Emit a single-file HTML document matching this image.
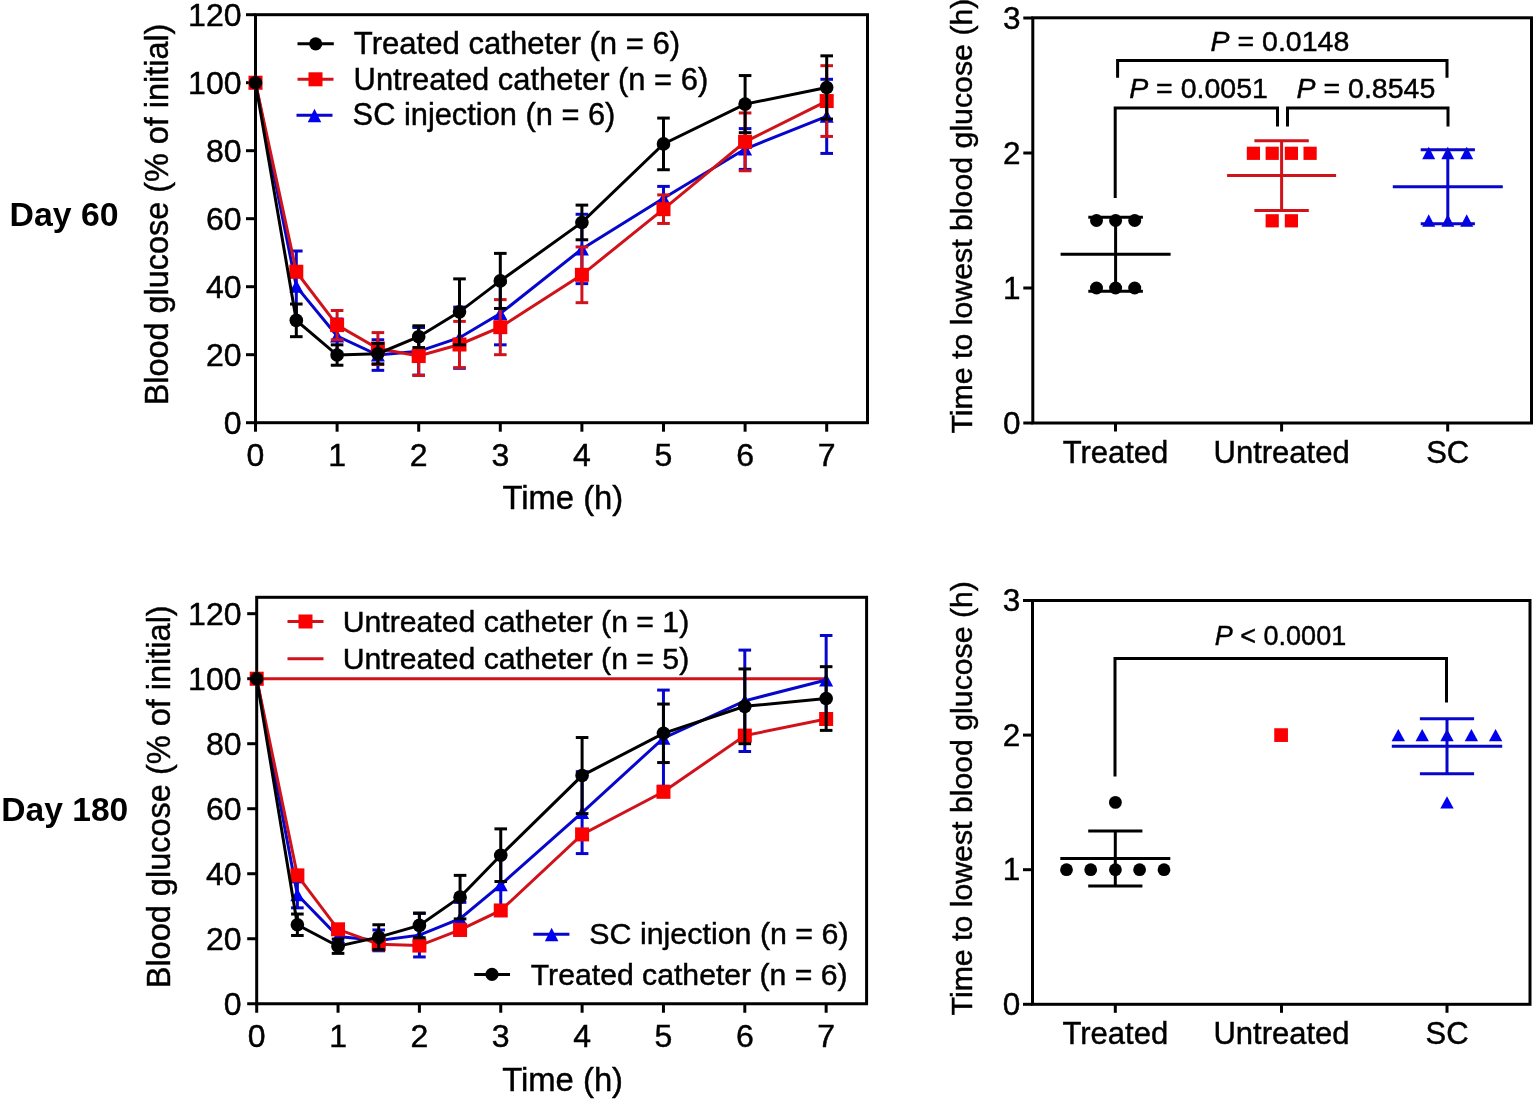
<!DOCTYPE html>
<html><head><meta charset="utf-8"><title>Blood glucose figure</title>
<style>html,body{margin:0;padding:0;background:#fff;}body{width:1536px;height:1100px;overflow:hidden;}svg{display:block;}text{fill:#000;stroke:#000;stroke-width:0.45px;}</style>
</head><body>
<svg width="1536" height="1100" viewBox="0 0 1536 1100" font-family="&quot;Liberation Sans&quot;, Arial, sans-serif">
<rect width="1536" height="1100" fill="#fff"/>
<rect x="255.50" y="14.70" width="612.00" height="408.00" fill="none" stroke="#000" stroke-width="3"/>
<line x1="246.00" y1="422.70" x2="255.50" y2="422.70" stroke="#000" stroke-width="3" stroke-linecap="butt"/>
<text x="241.50" y="433.66" font-size="32" text-anchor="end" font-weight="normal">0</text>
<line x1="246.00" y1="354.70" x2="255.50" y2="354.70" stroke="#000" stroke-width="3" stroke-linecap="butt"/>
<text x="241.50" y="365.66" font-size="32" text-anchor="end" font-weight="normal">20</text>
<line x1="246.00" y1="286.70" x2="255.50" y2="286.70" stroke="#000" stroke-width="3" stroke-linecap="butt"/>
<text x="241.50" y="297.66" font-size="32" text-anchor="end" font-weight="normal">40</text>
<line x1="246.00" y1="218.70" x2="255.50" y2="218.70" stroke="#000" stroke-width="3" stroke-linecap="butt"/>
<text x="241.50" y="229.66" font-size="32" text-anchor="end" font-weight="normal">60</text>
<line x1="246.00" y1="150.70" x2="255.50" y2="150.70" stroke="#000" stroke-width="3" stroke-linecap="butt"/>
<text x="241.50" y="161.66" font-size="32" text-anchor="end" font-weight="normal">80</text>
<line x1="246.00" y1="82.70" x2="255.50" y2="82.70" stroke="#000" stroke-width="3" stroke-linecap="butt"/>
<text x="241.50" y="93.66" font-size="32" text-anchor="end" font-weight="normal">100</text>
<line x1="246.00" y1="14.70" x2="255.50" y2="14.70" stroke="#000" stroke-width="3" stroke-linecap="butt"/>
<text x="241.50" y="25.66" font-size="32" text-anchor="end" font-weight="normal">120</text>
<line x1="255.50" y1="422.70" x2="255.50" y2="431.70" stroke="#000" stroke-width="3" stroke-linecap="butt"/>
<text x="255.50" y="466.20" font-size="32" text-anchor="middle" font-weight="normal">0</text>
<line x1="337.10" y1="422.70" x2="337.10" y2="431.70" stroke="#000" stroke-width="3" stroke-linecap="butt"/>
<text x="337.10" y="466.20" font-size="32" text-anchor="middle" font-weight="normal">1</text>
<line x1="418.70" y1="422.70" x2="418.70" y2="431.70" stroke="#000" stroke-width="3" stroke-linecap="butt"/>
<text x="418.70" y="466.20" font-size="32" text-anchor="middle" font-weight="normal">2</text>
<line x1="500.30" y1="422.70" x2="500.30" y2="431.70" stroke="#000" stroke-width="3" stroke-linecap="butt"/>
<text x="500.30" y="466.20" font-size="32" text-anchor="middle" font-weight="normal">3</text>
<line x1="581.90" y1="422.70" x2="581.90" y2="431.70" stroke="#000" stroke-width="3" stroke-linecap="butt"/>
<text x="581.90" y="466.20" font-size="32" text-anchor="middle" font-weight="normal">4</text>
<line x1="663.50" y1="422.70" x2="663.50" y2="431.70" stroke="#000" stroke-width="3" stroke-linecap="butt"/>
<text x="663.50" y="466.20" font-size="32" text-anchor="middle" font-weight="normal">5</text>
<line x1="745.10" y1="422.70" x2="745.10" y2="431.70" stroke="#000" stroke-width="3" stroke-linecap="butt"/>
<text x="745.10" y="466.20" font-size="32" text-anchor="middle" font-weight="normal">6</text>
<line x1="826.70" y1="422.70" x2="826.70" y2="431.70" stroke="#000" stroke-width="3" stroke-linecap="butt"/>
<text x="826.70" y="466.20" font-size="32" text-anchor="middle" font-weight="normal">7</text>
<line x1="296.30" y1="251.00" x2="296.30" y2="321.72" stroke="#0606cc" stroke-width="3" stroke-linecap="butt"/>
<line x1="290.00" y1="251.00" x2="302.60" y2="251.00" stroke="#0606cc" stroke-width="3" stroke-linecap="butt"/>
<line x1="290.00" y1="321.72" x2="302.60" y2="321.72" stroke="#0606cc" stroke-width="3" stroke-linecap="butt"/>
<line x1="337.10" y1="319.00" x2="337.10" y2="353.00" stroke="#0606cc" stroke-width="3" stroke-linecap="butt"/>
<line x1="330.80" y1="319.00" x2="343.40" y2="319.00" stroke="#0606cc" stroke-width="3" stroke-linecap="butt"/>
<line x1="330.80" y1="353.00" x2="343.40" y2="353.00" stroke="#0606cc" stroke-width="3" stroke-linecap="butt"/>
<line x1="377.90" y1="339.74" x2="377.90" y2="370.34" stroke="#0606cc" stroke-width="3" stroke-linecap="butt"/>
<line x1="371.60" y1="339.74" x2="384.20" y2="339.74" stroke="#0606cc" stroke-width="3" stroke-linecap="butt"/>
<line x1="371.60" y1="370.34" x2="384.20" y2="370.34" stroke="#0606cc" stroke-width="3" stroke-linecap="butt"/>
<line x1="418.70" y1="327.50" x2="418.70" y2="375.10" stroke="#0606cc" stroke-width="3" stroke-linecap="butt"/>
<line x1="412.40" y1="327.50" x2="425.00" y2="327.50" stroke="#0606cc" stroke-width="3" stroke-linecap="butt"/>
<line x1="412.40" y1="375.10" x2="425.00" y2="375.10" stroke="#0606cc" stroke-width="3" stroke-linecap="butt"/>
<line x1="459.50" y1="307.10" x2="459.50" y2="368.30" stroke="#0606cc" stroke-width="3" stroke-linecap="butt"/>
<line x1="453.20" y1="307.10" x2="465.80" y2="307.10" stroke="#0606cc" stroke-width="3" stroke-linecap="butt"/>
<line x1="453.20" y1="368.30" x2="465.80" y2="368.30" stroke="#0606cc" stroke-width="3" stroke-linecap="butt"/>
<line x1="500.30" y1="282.28" x2="500.30" y2="344.84" stroke="#0606cc" stroke-width="3" stroke-linecap="butt"/>
<line x1="494.00" y1="282.28" x2="506.60" y2="282.28" stroke="#0606cc" stroke-width="3" stroke-linecap="butt"/>
<line x1="494.00" y1="344.84" x2="506.60" y2="344.84" stroke="#0606cc" stroke-width="3" stroke-linecap="butt"/>
<line x1="581.90" y1="214.28" x2="581.90" y2="283.64" stroke="#0606cc" stroke-width="3" stroke-linecap="butt"/>
<line x1="575.60" y1="214.28" x2="588.20" y2="214.28" stroke="#0606cc" stroke-width="3" stroke-linecap="butt"/>
<line x1="575.60" y1="283.64" x2="588.20" y2="283.64" stroke="#0606cc" stroke-width="3" stroke-linecap="butt"/>
<line x1="663.50" y1="186.40" x2="663.50" y2="210.20" stroke="#0606cc" stroke-width="3" stroke-linecap="butt"/>
<line x1="657.20" y1="186.40" x2="669.80" y2="186.40" stroke="#0606cc" stroke-width="3" stroke-linecap="butt"/>
<line x1="657.20" y1="210.20" x2="669.80" y2="210.20" stroke="#0606cc" stroke-width="3" stroke-linecap="butt"/>
<line x1="745.10" y1="128.60" x2="745.10" y2="169.40" stroke="#0606cc" stroke-width="3" stroke-linecap="butt"/>
<line x1="738.80" y1="128.60" x2="751.40" y2="128.60" stroke="#0606cc" stroke-width="3" stroke-linecap="butt"/>
<line x1="738.80" y1="169.40" x2="751.40" y2="169.40" stroke="#0606cc" stroke-width="3" stroke-linecap="butt"/>
<line x1="826.70" y1="79.30" x2="826.70" y2="153.42" stroke="#0606cc" stroke-width="3" stroke-linecap="butt"/>
<line x1="820.40" y1="79.30" x2="833.00" y2="79.30" stroke="#0606cc" stroke-width="3" stroke-linecap="butt"/>
<line x1="820.40" y1="153.42" x2="833.00" y2="153.42" stroke="#0606cc" stroke-width="3" stroke-linecap="butt"/>
<polyline points="255.50,82.70 296.30,286.36 337.10,336.00 377.90,355.04 418.70,351.30 459.50,337.70 500.30,313.56 581.90,248.96 663.50,198.30 745.10,149.00 826.70,116.36" fill="none" stroke="#0606cc" stroke-width="3" stroke-linejoin="miter"/>
<polygon points="255.50,76.20 262.50,89.20 248.50,89.20" fill="#0000f0"/>
<polygon points="296.30,279.86 303.30,292.86 289.30,292.86" fill="#0000f0"/>
<polygon points="337.10,329.50 344.10,342.50 330.10,342.50" fill="#0000f0"/>
<polygon points="377.90,348.54 384.90,361.54 370.90,361.54" fill="#0000f0"/>
<polygon points="418.70,344.80 425.70,357.80 411.70,357.80" fill="#0000f0"/>
<polygon points="459.50,331.20 466.50,344.20 452.50,344.20" fill="#0000f0"/>
<polygon points="500.30,307.06 507.30,320.06 493.30,320.06" fill="#0000f0"/>
<polygon points="581.90,242.46 588.90,255.46 574.90,255.46" fill="#0000f0"/>
<polygon points="663.50,191.80 670.50,204.80 656.50,204.80" fill="#0000f0"/>
<polygon points="745.10,142.50 752.10,155.50 738.10,155.50" fill="#0000f0"/>
<polygon points="826.70,109.86 833.70,122.86 819.70,122.86" fill="#0000f0"/>
<line x1="296.30" y1="266.64" x2="296.30" y2="276.84" stroke="#d0121a" stroke-width="3" stroke-linecap="butt"/>
<line x1="290.00" y1="266.64" x2="302.60" y2="266.64" stroke="#d0121a" stroke-width="3" stroke-linecap="butt"/>
<line x1="290.00" y1="276.84" x2="302.60" y2="276.84" stroke="#d0121a" stroke-width="3" stroke-linecap="butt"/>
<line x1="337.10" y1="310.50" x2="337.10" y2="339.74" stroke="#d0121a" stroke-width="3" stroke-linecap="butt"/>
<line x1="330.80" y1="310.50" x2="343.40" y2="310.50" stroke="#d0121a" stroke-width="3" stroke-linecap="butt"/>
<line x1="330.80" y1="339.74" x2="343.40" y2="339.74" stroke="#d0121a" stroke-width="3" stroke-linecap="butt"/>
<line x1="377.90" y1="332.60" x2="377.90" y2="364.56" stroke="#d0121a" stroke-width="3" stroke-linecap="butt"/>
<line x1="371.60" y1="332.60" x2="384.20" y2="332.60" stroke="#d0121a" stroke-width="3" stroke-linecap="butt"/>
<line x1="371.60" y1="364.56" x2="384.20" y2="364.56" stroke="#d0121a" stroke-width="3" stroke-linecap="butt"/>
<line x1="418.70" y1="336.68" x2="418.70" y2="375.44" stroke="#d0121a" stroke-width="3" stroke-linecap="butt"/>
<line x1="412.40" y1="336.68" x2="425.00" y2="336.68" stroke="#d0121a" stroke-width="3" stroke-linecap="butt"/>
<line x1="412.40" y1="375.44" x2="425.00" y2="375.44" stroke="#d0121a" stroke-width="3" stroke-linecap="butt"/>
<line x1="459.50" y1="321.38" x2="459.50" y2="367.62" stroke="#d0121a" stroke-width="3" stroke-linecap="butt"/>
<line x1="453.20" y1="321.38" x2="465.80" y2="321.38" stroke="#d0121a" stroke-width="3" stroke-linecap="butt"/>
<line x1="453.20" y1="367.62" x2="465.80" y2="367.62" stroke="#d0121a" stroke-width="3" stroke-linecap="butt"/>
<line x1="500.30" y1="299.62" x2="500.30" y2="354.70" stroke="#d0121a" stroke-width="3" stroke-linecap="butt"/>
<line x1="494.00" y1="299.62" x2="506.60" y2="299.62" stroke="#d0121a" stroke-width="3" stroke-linecap="butt"/>
<line x1="494.00" y1="354.70" x2="506.60" y2="354.70" stroke="#d0121a" stroke-width="3" stroke-linecap="butt"/>
<line x1="581.90" y1="246.92" x2="581.90" y2="302.68" stroke="#d0121a" stroke-width="3" stroke-linecap="butt"/>
<line x1="575.60" y1="246.92" x2="588.20" y2="246.92" stroke="#d0121a" stroke-width="3" stroke-linecap="butt"/>
<line x1="575.60" y1="302.68" x2="588.20" y2="302.68" stroke="#d0121a" stroke-width="3" stroke-linecap="butt"/>
<line x1="663.50" y1="194.90" x2="663.50" y2="223.46" stroke="#d0121a" stroke-width="3" stroke-linecap="butt"/>
<line x1="657.20" y1="194.90" x2="669.80" y2="194.90" stroke="#d0121a" stroke-width="3" stroke-linecap="butt"/>
<line x1="657.20" y1="223.46" x2="669.80" y2="223.46" stroke="#d0121a" stroke-width="3" stroke-linecap="butt"/>
<line x1="745.10" y1="112.96" x2="745.10" y2="170.76" stroke="#d0121a" stroke-width="3" stroke-linecap="butt"/>
<line x1="738.80" y1="112.96" x2="751.40" y2="112.96" stroke="#d0121a" stroke-width="3" stroke-linecap="butt"/>
<line x1="738.80" y1="170.76" x2="751.40" y2="170.76" stroke="#d0121a" stroke-width="3" stroke-linecap="butt"/>
<line x1="826.70" y1="65.70" x2="826.70" y2="136.42" stroke="#d0121a" stroke-width="3" stroke-linecap="butt"/>
<line x1="820.40" y1="65.70" x2="833.00" y2="65.70" stroke="#d0121a" stroke-width="3" stroke-linecap="butt"/>
<line x1="820.40" y1="136.42" x2="833.00" y2="136.42" stroke="#d0121a" stroke-width="3" stroke-linecap="butt"/>
<polyline points="255.50,82.70 296.30,271.74 337.10,325.12 377.90,348.58 418.70,356.06 459.50,344.50 500.30,327.16 581.90,274.80 663.50,209.18 745.10,141.86 826.70,101.06" fill="none" stroke="#d0121a" stroke-width="3" stroke-linejoin="miter"/>
<rect x="248.50" y="75.70" width="14" height="14" fill="#fa0000"/>
<rect x="289.30" y="264.74" width="14" height="14" fill="#fa0000"/>
<rect x="330.10" y="318.12" width="14" height="14" fill="#fa0000"/>
<rect x="370.90" y="341.58" width="14" height="14" fill="#fa0000"/>
<rect x="411.70" y="349.06" width="14" height="14" fill="#fa0000"/>
<rect x="452.50" y="337.50" width="14" height="14" fill="#fa0000"/>
<rect x="493.30" y="320.16" width="14" height="14" fill="#fa0000"/>
<rect x="574.90" y="267.80" width="14" height="14" fill="#fa0000"/>
<rect x="656.50" y="202.18" width="14" height="14" fill="#fa0000"/>
<rect x="738.10" y="134.86" width="14" height="14" fill="#fa0000"/>
<rect x="819.70" y="94.06" width="14" height="14" fill="#fa0000"/>
<line x1="296.30" y1="304.04" x2="296.30" y2="336.68" stroke="#000" stroke-width="3" stroke-linecap="butt"/>
<line x1="290.00" y1="304.04" x2="302.60" y2="304.04" stroke="#000" stroke-width="3" stroke-linecap="butt"/>
<line x1="290.00" y1="336.68" x2="302.60" y2="336.68" stroke="#000" stroke-width="3" stroke-linecap="butt"/>
<line x1="337.10" y1="344.84" x2="337.10" y2="365.24" stroke="#000" stroke-width="3" stroke-linecap="butt"/>
<line x1="330.80" y1="344.84" x2="343.40" y2="344.84" stroke="#000" stroke-width="3" stroke-linecap="butt"/>
<line x1="330.80" y1="365.24" x2="343.40" y2="365.24" stroke="#000" stroke-width="3" stroke-linecap="butt"/>
<line x1="377.90" y1="343.48" x2="377.90" y2="363.88" stroke="#000" stroke-width="3" stroke-linecap="butt"/>
<line x1="371.60" y1="343.48" x2="384.20" y2="343.48" stroke="#000" stroke-width="3" stroke-linecap="butt"/>
<line x1="371.60" y1="363.88" x2="384.20" y2="363.88" stroke="#000" stroke-width="3" stroke-linecap="butt"/>
<line x1="418.70" y1="325.80" x2="418.70" y2="347.56" stroke="#000" stroke-width="3" stroke-linecap="butt"/>
<line x1="412.40" y1="325.80" x2="425.00" y2="325.80" stroke="#000" stroke-width="3" stroke-linecap="butt"/>
<line x1="412.40" y1="347.56" x2="425.00" y2="347.56" stroke="#000" stroke-width="3" stroke-linecap="butt"/>
<line x1="459.50" y1="278.88" x2="459.50" y2="344.84" stroke="#000" stroke-width="3" stroke-linecap="butt"/>
<line x1="453.20" y1="278.88" x2="465.80" y2="278.88" stroke="#000" stroke-width="3" stroke-linecap="butt"/>
<line x1="453.20" y1="344.84" x2="465.80" y2="344.84" stroke="#000" stroke-width="3" stroke-linecap="butt"/>
<line x1="500.30" y1="253.38" x2="500.30" y2="308.46" stroke="#000" stroke-width="3" stroke-linecap="butt"/>
<line x1="494.00" y1="253.38" x2="506.60" y2="253.38" stroke="#000" stroke-width="3" stroke-linecap="butt"/>
<line x1="494.00" y1="308.46" x2="506.60" y2="308.46" stroke="#000" stroke-width="3" stroke-linecap="butt"/>
<line x1="581.90" y1="205.10" x2="581.90" y2="239.78" stroke="#000" stroke-width="3" stroke-linecap="butt"/>
<line x1="575.60" y1="205.10" x2="588.20" y2="205.10" stroke="#000" stroke-width="3" stroke-linecap="butt"/>
<line x1="575.60" y1="239.78" x2="588.20" y2="239.78" stroke="#000" stroke-width="3" stroke-linecap="butt"/>
<line x1="663.50" y1="118.06" x2="663.50" y2="169.74" stroke="#000" stroke-width="3" stroke-linecap="butt"/>
<line x1="657.20" y1="118.06" x2="669.80" y2="118.06" stroke="#000" stroke-width="3" stroke-linecap="butt"/>
<line x1="657.20" y1="169.74" x2="669.80" y2="169.74" stroke="#000" stroke-width="3" stroke-linecap="butt"/>
<line x1="745.10" y1="75.56" x2="745.10" y2="132.68" stroke="#000" stroke-width="3" stroke-linecap="butt"/>
<line x1="738.80" y1="75.56" x2="751.40" y2="75.56" stroke="#000" stroke-width="3" stroke-linecap="butt"/>
<line x1="738.80" y1="132.68" x2="751.40" y2="132.68" stroke="#000" stroke-width="3" stroke-linecap="butt"/>
<line x1="826.70" y1="55.84" x2="826.70" y2="119.08" stroke="#000" stroke-width="3" stroke-linecap="butt"/>
<line x1="820.40" y1="55.84" x2="833.00" y2="55.84" stroke="#000" stroke-width="3" stroke-linecap="butt"/>
<line x1="820.40" y1="119.08" x2="833.00" y2="119.08" stroke="#000" stroke-width="3" stroke-linecap="butt"/>
<polyline points="255.50,82.70 296.30,320.36 337.10,355.04 377.90,353.68 418.70,336.68 459.50,311.86 500.30,280.92 581.90,222.44 663.50,143.90 745.10,104.12 826.70,87.46" fill="none" stroke="#000" stroke-width="3" stroke-linejoin="miter"/>
<circle cx="255.50" cy="82.70" r="6.8" fill="#000"/>
<circle cx="296.30" cy="320.36" r="6.8" fill="#000"/>
<circle cx="337.10" cy="355.04" r="6.8" fill="#000"/>
<circle cx="377.90" cy="353.68" r="6.8" fill="#000"/>
<circle cx="418.70" cy="336.68" r="6.8" fill="#000"/>
<circle cx="459.50" cy="311.86" r="6.8" fill="#000"/>
<circle cx="500.30" cy="280.92" r="6.8" fill="#000"/>
<circle cx="581.90" cy="222.44" r="6.8" fill="#000"/>
<circle cx="663.50" cy="143.90" r="6.8" fill="#000"/>
<circle cx="745.10" cy="104.12" r="6.8" fill="#000"/>
<circle cx="826.70" cy="87.46" r="6.8" fill="#000"/>
<line x1="297.50" y1="43.80" x2="333.80" y2="43.80" stroke="#000" stroke-width="3" stroke-linecap="butt"/>
<circle cx="315.70" cy="43.80" r="6.6" fill="#000"/>
<line x1="297.50" y1="79.30" x2="333.50" y2="79.30" stroke="#d0121a" stroke-width="3" stroke-linecap="butt"/>
<rect x="308.50" y="72.30" width="14" height="14" fill="#fa0000"/>
<line x1="296.50" y1="115.30" x2="332.50" y2="115.30" stroke="#0606cc" stroke-width="3" stroke-linecap="butt"/>
<polygon points="314.50,108.85 321.25,122.35 307.75,122.35" fill="#0000f0"/>
<text x="353.80" y="54.40" font-size="31.1" text-anchor="start" font-weight="normal">Treated catheter (n = 6)</text>
<text x="353.60" y="89.60" font-size="30.9" text-anchor="start" font-weight="normal">Untreated catheter (n = 6)</text>
<text x="352.60" y="124.60" font-size="30.8" text-anchor="start" font-weight="normal">SC injection (n = 6)</text>
<text x="502.40" y="509.40" font-size="32.8" text-anchor="start" font-weight="normal">Time (h)</text>
<text transform="translate(167.90,405.30) rotate(-90)" x="0" y="0" font-size="32.4">Blood glucose (% of initial)</text>
<text x="9.60" y="226.40" font-size="33.8" text-anchor="start" font-weight="bold" style="stroke-width:0">Day 60</text>
<rect x="256.70" y="597.30" width="609.90" height="406.45" fill="none" stroke="#000" stroke-width="3"/>
<line x1="247.20" y1="1003.75" x2="256.70" y2="1003.75" stroke="#000" stroke-width="3" stroke-linecap="butt"/>
<text x="241.50" y="1014.71" font-size="32" text-anchor="end" font-weight="normal">0</text>
<line x1="247.20" y1="938.74" x2="256.70" y2="938.74" stroke="#000" stroke-width="3" stroke-linecap="butt"/>
<text x="241.50" y="949.70" font-size="32" text-anchor="end" font-weight="normal">20</text>
<line x1="247.20" y1="873.73" x2="256.70" y2="873.73" stroke="#000" stroke-width="3" stroke-linecap="butt"/>
<text x="241.50" y="884.69" font-size="32" text-anchor="end" font-weight="normal">40</text>
<line x1="247.20" y1="808.72" x2="256.70" y2="808.72" stroke="#000" stroke-width="3" stroke-linecap="butt"/>
<text x="241.50" y="819.68" font-size="32" text-anchor="end" font-weight="normal">60</text>
<line x1="247.20" y1="743.71" x2="256.70" y2="743.71" stroke="#000" stroke-width="3" stroke-linecap="butt"/>
<text x="241.50" y="754.67" font-size="32" text-anchor="end" font-weight="normal">80</text>
<line x1="247.20" y1="678.70" x2="256.70" y2="678.70" stroke="#000" stroke-width="3" stroke-linecap="butt"/>
<text x="241.50" y="689.66" font-size="32" text-anchor="end" font-weight="normal">100</text>
<line x1="247.20" y1="613.69" x2="256.70" y2="613.69" stroke="#000" stroke-width="3" stroke-linecap="butt"/>
<text x="241.50" y="624.65" font-size="32" text-anchor="end" font-weight="normal">120</text>
<line x1="256.70" y1="1003.75" x2="256.70" y2="1012.75" stroke="#000" stroke-width="3" stroke-linecap="butt"/>
<text x="256.70" y="1047.20" font-size="32" text-anchor="middle" font-weight="normal">0</text>
<line x1="338.05" y1="1003.75" x2="338.05" y2="1012.75" stroke="#000" stroke-width="3" stroke-linecap="butt"/>
<text x="338.05" y="1047.20" font-size="32" text-anchor="middle" font-weight="normal">1</text>
<line x1="419.40" y1="1003.75" x2="419.40" y2="1012.75" stroke="#000" stroke-width="3" stroke-linecap="butt"/>
<text x="419.40" y="1047.20" font-size="32" text-anchor="middle" font-weight="normal">2</text>
<line x1="500.75" y1="1003.75" x2="500.75" y2="1012.75" stroke="#000" stroke-width="3" stroke-linecap="butt"/>
<text x="500.75" y="1047.20" font-size="32" text-anchor="middle" font-weight="normal">3</text>
<line x1="582.10" y1="1003.75" x2="582.10" y2="1012.75" stroke="#000" stroke-width="3" stroke-linecap="butt"/>
<text x="582.10" y="1047.20" font-size="32" text-anchor="middle" font-weight="normal">4</text>
<line x1="663.45" y1="1003.75" x2="663.45" y2="1012.75" stroke="#000" stroke-width="3" stroke-linecap="butt"/>
<text x="663.45" y="1047.20" font-size="32" text-anchor="middle" font-weight="normal">5</text>
<line x1="744.80" y1="1003.75" x2="744.80" y2="1012.75" stroke="#000" stroke-width="3" stroke-linecap="butt"/>
<text x="744.80" y="1047.20" font-size="32" text-anchor="middle" font-weight="normal">6</text>
<line x1="826.15" y1="1003.75" x2="826.15" y2="1012.75" stroke="#000" stroke-width="3" stroke-linecap="butt"/>
<text x="826.15" y="1047.20" font-size="32" text-anchor="middle" font-weight="normal">7</text>
<line x1="256.70" y1="678.70" x2="826.15" y2="678.70" stroke="#d0121a" stroke-width="3" stroke-linecap="butt"/>
<line x1="297.38" y1="881.86" x2="297.38" y2="907.86" stroke="#0606cc" stroke-width="3" stroke-linecap="butt"/>
<line x1="291.07" y1="881.86" x2="303.68" y2="881.86" stroke="#0606cc" stroke-width="3" stroke-linecap="butt"/>
<line x1="291.07" y1="907.86" x2="303.68" y2="907.86" stroke="#0606cc" stroke-width="3" stroke-linecap="butt"/>
<line x1="338.05" y1="926.71" x2="338.05" y2="946.22" stroke="#0606cc" stroke-width="3" stroke-linecap="butt"/>
<line x1="331.75" y1="926.71" x2="344.35" y2="926.71" stroke="#0606cc" stroke-width="3" stroke-linecap="butt"/>
<line x1="331.75" y1="946.22" x2="344.35" y2="946.22" stroke="#0606cc" stroke-width="3" stroke-linecap="butt"/>
<line x1="378.72" y1="929.96" x2="378.72" y2="950.77" stroke="#0606cc" stroke-width="3" stroke-linecap="butt"/>
<line x1="372.42" y1="929.96" x2="385.02" y2="929.96" stroke="#0606cc" stroke-width="3" stroke-linecap="butt"/>
<line x1="372.42" y1="950.77" x2="385.02" y2="950.77" stroke="#0606cc" stroke-width="3" stroke-linecap="butt"/>
<line x1="419.40" y1="913.39" x2="419.40" y2="956.94" stroke="#0606cc" stroke-width="3" stroke-linecap="butt"/>
<line x1="413.10" y1="913.39" x2="425.70" y2="913.39" stroke="#0606cc" stroke-width="3" stroke-linecap="butt"/>
<line x1="413.10" y1="956.94" x2="425.70" y2="956.94" stroke="#0606cc" stroke-width="3" stroke-linecap="butt"/>
<line x1="460.07" y1="902.33" x2="460.07" y2="934.84" stroke="#0606cc" stroke-width="3" stroke-linecap="butt"/>
<line x1="453.77" y1="902.33" x2="466.38" y2="902.33" stroke="#0606cc" stroke-width="3" stroke-linecap="butt"/>
<line x1="453.77" y1="934.84" x2="466.38" y2="934.84" stroke="#0606cc" stroke-width="3" stroke-linecap="butt"/>
<line x1="500.75" y1="855.20" x2="500.75" y2="914.36" stroke="#0606cc" stroke-width="3" stroke-linecap="butt"/>
<line x1="494.45" y1="855.20" x2="507.05" y2="855.20" stroke="#0606cc" stroke-width="3" stroke-linecap="butt"/>
<line x1="494.45" y1="914.36" x2="507.05" y2="914.36" stroke="#0606cc" stroke-width="3" stroke-linecap="butt"/>
<line x1="582.10" y1="771.66" x2="582.10" y2="853.58" stroke="#0606cc" stroke-width="3" stroke-linecap="butt"/>
<line x1="575.80" y1="771.66" x2="588.40" y2="771.66" stroke="#0606cc" stroke-width="3" stroke-linecap="butt"/>
<line x1="575.80" y1="853.58" x2="588.40" y2="853.58" stroke="#0606cc" stroke-width="3" stroke-linecap="butt"/>
<line x1="663.45" y1="690.08" x2="663.45" y2="786.29" stroke="#0606cc" stroke-width="3" stroke-linecap="butt"/>
<line x1="657.15" y1="690.08" x2="669.75" y2="690.08" stroke="#0606cc" stroke-width="3" stroke-linecap="butt"/>
<line x1="657.15" y1="786.29" x2="669.75" y2="786.29" stroke="#0606cc" stroke-width="3" stroke-linecap="butt"/>
<line x1="744.80" y1="650.10" x2="744.80" y2="751.51" stroke="#0606cc" stroke-width="3" stroke-linecap="butt"/>
<line x1="738.50" y1="650.10" x2="751.10" y2="650.10" stroke="#0606cc" stroke-width="3" stroke-linecap="butt"/>
<line x1="738.50" y1="751.51" x2="751.10" y2="751.51" stroke="#0606cc" stroke-width="3" stroke-linecap="butt"/>
<line x1="826.15" y1="635.47" x2="826.15" y2="724.53" stroke="#0606cc" stroke-width="3" stroke-linecap="butt"/>
<line x1="819.85" y1="635.47" x2="832.45" y2="635.47" stroke="#0606cc" stroke-width="3" stroke-linecap="butt"/>
<line x1="819.85" y1="724.53" x2="832.45" y2="724.53" stroke="#0606cc" stroke-width="3" stroke-linecap="butt"/>
<polyline points="256.70,678.70 297.38,894.86 338.05,936.46 378.72,940.37 419.40,935.16 460.07,918.59 500.75,884.78 582.10,812.62 663.45,738.18 744.80,700.80 826.15,680.00" fill="none" stroke="#0606cc" stroke-width="3" stroke-linejoin="miter"/>
<polygon points="256.70,672.20 263.70,685.20 249.70,685.20" fill="#0000f0"/>
<polygon points="297.38,888.36 304.38,901.36 290.38,901.36" fill="#0000f0"/>
<polygon points="338.05,929.96 345.05,942.96 331.05,942.96" fill="#0000f0"/>
<polygon points="378.72,933.87 385.72,946.87 371.72,946.87" fill="#0000f0"/>
<polygon points="419.40,928.66 426.40,941.66 412.40,941.66" fill="#0000f0"/>
<polygon points="460.07,912.09 467.07,925.09 453.07,925.09" fill="#0000f0"/>
<polygon points="500.75,878.28 507.75,891.28 493.75,891.28" fill="#0000f0"/>
<polygon points="582.10,806.12 589.10,819.12 575.10,819.12" fill="#0000f0"/>
<polygon points="663.45,731.68 670.45,744.68 656.45,744.68" fill="#0000f0"/>
<polygon points="744.80,694.30 751.80,707.30 737.80,707.30" fill="#0000f0"/>
<polygon points="826.15,673.50 833.15,686.50 819.15,686.50" fill="#0000f0"/>
<polyline points="256.70,678.70 297.38,875.36 338.05,929.31 378.72,944.27 419.40,945.57 460.07,929.96 500.75,910.46 582.10,834.40 663.45,791.82 744.80,735.58 826.15,719.01" fill="none" stroke="#d0121a" stroke-width="3" stroke-linejoin="miter"/>
<rect x="249.70" y="671.70" width="14" height="14" fill="#fa0000"/>
<rect x="290.38" y="868.36" width="14" height="14" fill="#fa0000"/>
<rect x="331.05" y="922.31" width="14" height="14" fill="#fa0000"/>
<rect x="371.72" y="937.27" width="14" height="14" fill="#fa0000"/>
<rect x="412.40" y="938.57" width="14" height="14" fill="#fa0000"/>
<rect x="453.07" y="922.96" width="14" height="14" fill="#fa0000"/>
<rect x="493.75" y="903.46" width="14" height="14" fill="#fa0000"/>
<rect x="575.10" y="827.40" width="14" height="14" fill="#fa0000"/>
<rect x="656.45" y="784.82" width="14" height="14" fill="#fa0000"/>
<rect x="737.80" y="728.58" width="14" height="14" fill="#fa0000"/>
<rect x="819.15" y="712.01" width="14" height="14" fill="#fa0000"/>
<line x1="297.38" y1="914.04" x2="297.38" y2="935.49" stroke="#000" stroke-width="3" stroke-linecap="butt"/>
<line x1="291.07" y1="914.04" x2="303.68" y2="914.04" stroke="#000" stroke-width="3" stroke-linecap="butt"/>
<line x1="291.07" y1="935.49" x2="303.68" y2="935.49" stroke="#000" stroke-width="3" stroke-linecap="butt"/>
<line x1="338.05" y1="939.07" x2="338.05" y2="953.37" stroke="#000" stroke-width="3" stroke-linecap="butt"/>
<line x1="331.75" y1="939.07" x2="344.35" y2="939.07" stroke="#000" stroke-width="3" stroke-linecap="butt"/>
<line x1="331.75" y1="953.37" x2="344.35" y2="953.37" stroke="#000" stroke-width="3" stroke-linecap="butt"/>
<line x1="378.72" y1="924.76" x2="378.72" y2="949.47" stroke="#000" stroke-width="3" stroke-linecap="butt"/>
<line x1="372.42" y1="924.76" x2="385.02" y2="924.76" stroke="#000" stroke-width="3" stroke-linecap="butt"/>
<line x1="372.42" y1="949.47" x2="385.02" y2="949.47" stroke="#000" stroke-width="3" stroke-linecap="butt"/>
<line x1="419.40" y1="913.06" x2="419.40" y2="937.76" stroke="#000" stroke-width="3" stroke-linecap="butt"/>
<line x1="413.10" y1="913.06" x2="425.70" y2="913.06" stroke="#000" stroke-width="3" stroke-linecap="butt"/>
<line x1="413.10" y1="937.76" x2="425.70" y2="937.76" stroke="#000" stroke-width="3" stroke-linecap="butt"/>
<line x1="460.07" y1="875.36" x2="460.07" y2="918.91" stroke="#000" stroke-width="3" stroke-linecap="butt"/>
<line x1="453.77" y1="875.36" x2="466.38" y2="875.36" stroke="#000" stroke-width="3" stroke-linecap="butt"/>
<line x1="453.77" y1="918.91" x2="466.38" y2="918.91" stroke="#000" stroke-width="3" stroke-linecap="butt"/>
<line x1="500.75" y1="828.87" x2="500.75" y2="881.53" stroke="#000" stroke-width="3" stroke-linecap="butt"/>
<line x1="494.45" y1="828.87" x2="507.05" y2="828.87" stroke="#000" stroke-width="3" stroke-linecap="butt"/>
<line x1="494.45" y1="881.53" x2="507.05" y2="881.53" stroke="#000" stroke-width="3" stroke-linecap="butt"/>
<line x1="582.10" y1="737.53" x2="582.10" y2="813.60" stroke="#000" stroke-width="3" stroke-linecap="butt"/>
<line x1="575.80" y1="737.53" x2="588.40" y2="737.53" stroke="#000" stroke-width="3" stroke-linecap="butt"/>
<line x1="575.80" y1="813.60" x2="588.40" y2="813.60" stroke="#000" stroke-width="3" stroke-linecap="butt"/>
<line x1="663.45" y1="704.05" x2="663.45" y2="762.56" stroke="#000" stroke-width="3" stroke-linecap="butt"/>
<line x1="657.15" y1="704.05" x2="669.75" y2="704.05" stroke="#000" stroke-width="3" stroke-linecap="butt"/>
<line x1="657.15" y1="762.56" x2="669.75" y2="762.56" stroke="#000" stroke-width="3" stroke-linecap="butt"/>
<line x1="744.80" y1="668.95" x2="744.80" y2="743.71" stroke="#000" stroke-width="3" stroke-linecap="butt"/>
<line x1="738.50" y1="668.95" x2="751.10" y2="668.95" stroke="#000" stroke-width="3" stroke-linecap="butt"/>
<line x1="738.50" y1="743.71" x2="751.10" y2="743.71" stroke="#000" stroke-width="3" stroke-linecap="butt"/>
<line x1="826.15" y1="666.67" x2="826.15" y2="730.38" stroke="#000" stroke-width="3" stroke-linecap="butt"/>
<line x1="819.85" y1="666.67" x2="832.45" y2="666.67" stroke="#000" stroke-width="3" stroke-linecap="butt"/>
<line x1="819.85" y1="730.38" x2="832.45" y2="730.38" stroke="#000" stroke-width="3" stroke-linecap="butt"/>
<polyline points="256.70,678.70 297.38,924.76 338.05,946.22 378.72,937.11 419.40,925.41 460.07,897.13 500.75,855.20 582.10,775.56 663.45,733.31 744.80,706.33 826.15,698.53" fill="none" stroke="#000" stroke-width="3" stroke-linejoin="miter"/>
<circle cx="256.70" cy="678.70" r="6.8" fill="#000"/>
<circle cx="297.38" cy="924.76" r="6.8" fill="#000"/>
<circle cx="338.05" cy="946.22" r="6.8" fill="#000"/>
<circle cx="378.72" cy="937.11" r="6.8" fill="#000"/>
<circle cx="419.40" cy="925.41" r="6.8" fill="#000"/>
<circle cx="460.07" cy="897.13" r="6.8" fill="#000"/>
<circle cx="500.75" cy="855.20" r="6.8" fill="#000"/>
<circle cx="582.10" cy="775.56" r="6.8" fill="#000"/>
<circle cx="663.45" cy="733.31" r="6.8" fill="#000"/>
<circle cx="744.80" cy="706.33" r="6.8" fill="#000"/>
<circle cx="826.15" cy="698.53" r="6.8" fill="#000"/>
<line x1="287.50" y1="621.50" x2="323.50" y2="621.50" stroke="#d0121a" stroke-width="3" stroke-linecap="butt"/>
<rect x="298.50" y="614.50" width="14" height="14" fill="#fa0000"/>
<line x1="287.50" y1="658.80" x2="323.50" y2="658.80" stroke="#d0121a" stroke-width="3" stroke-linecap="butt"/>
<text x="342.70" y="631.50" font-size="30.2" text-anchor="start" font-weight="normal">Untreated catheter (n = 1)</text>
<text x="342.70" y="668.80" font-size="30.2" text-anchor="start" font-weight="normal">Untreated catheter (n = 5)</text>
<line x1="533.30" y1="934.20" x2="569.40" y2="934.20" stroke="#0606cc" stroke-width="3" stroke-linecap="butt"/>
<polygon points="551.60,927.75 558.35,941.25 544.85,941.25" fill="#0000f0"/>
<text x="589.30" y="943.80" font-size="30.4" text-anchor="start" font-weight="normal">SC injection (n = 6)</text>
<line x1="474.20" y1="974.40" x2="510.00" y2="974.40" stroke="#000" stroke-width="3" stroke-linecap="butt"/>
<circle cx="492.00" cy="974.40" r="6.6" fill="#000"/>
<text x="530.80" y="984.80" font-size="30.2" text-anchor="start" font-weight="normal">Treated catheter (n = 6)</text>
<text x="502.20" y="1091.40" font-size="32.8" text-anchor="start" font-weight="normal">Time (h)</text>
<text transform="translate(169.80,988.30) rotate(-90)" x="0" y="0" font-size="32.5">Blood glucose (% of initial)</text>
<text x="1.30" y="820.80" font-size="33.6" text-anchor="start" font-weight="bold" style="stroke-width:0">Day 180</text>
<rect x="1032.80" y="17.80" width="498.70" height="405.20" fill="none" stroke="#000" stroke-width="3"/>
<line x1="1023.30" y1="423.00" x2="1032.80" y2="423.00" stroke="#000" stroke-width="3" stroke-linecap="butt"/>
<text x="1020.50" y="433.79" font-size="31.5" text-anchor="end" font-weight="normal">0</text>
<line x1="1023.30" y1="288.00" x2="1032.80" y2="288.00" stroke="#000" stroke-width="3" stroke-linecap="butt"/>
<text x="1020.50" y="298.79" font-size="31.5" text-anchor="end" font-weight="normal">1</text>
<line x1="1023.30" y1="153.00" x2="1032.80" y2="153.00" stroke="#000" stroke-width="3" stroke-linecap="butt"/>
<text x="1020.50" y="163.79" font-size="31.5" text-anchor="end" font-weight="normal">2</text>
<line x1="1023.30" y1="18.00" x2="1032.80" y2="18.00" stroke="#000" stroke-width="3" stroke-linecap="butt"/>
<text x="1020.50" y="28.79" font-size="31.5" text-anchor="end" font-weight="normal">3</text>
<line x1="1115.50" y1="423.00" x2="1115.50" y2="431.50" stroke="#000" stroke-width="3" stroke-linecap="butt"/>
<text x="1115.50" y="462.70" font-size="31" text-anchor="middle" font-weight="normal">Treated</text>
<line x1="1281.60" y1="423.00" x2="1281.60" y2="431.50" stroke="#000" stroke-width="3" stroke-linecap="butt"/>
<text x="1281.60" y="462.70" font-size="31" text-anchor="middle" font-weight="normal">Untreated</text>
<line x1="1447.70" y1="423.00" x2="1447.70" y2="431.50" stroke="#000" stroke-width="3" stroke-linecap="butt"/>
<text x="1447.70" y="462.70" font-size="31" text-anchor="middle" font-weight="normal">SC</text>
<circle cx="1096.50" cy="220.50" r="6.5" fill="#000"/>
<circle cx="1096.50" cy="288.00" r="6.5" fill="#000"/>
<circle cx="1115.60" cy="220.50" r="6.5" fill="#000"/>
<circle cx="1115.60" cy="288.00" r="6.5" fill="#000"/>
<circle cx="1134.70" cy="220.50" r="6.5" fill="#000"/>
<circle cx="1134.70" cy="288.00" r="6.5" fill="#000"/>
<line x1="1060.60" y1="254.25" x2="1170.60" y2="254.25" stroke="#000" stroke-width="3" stroke-linecap="butt"/>
<line x1="1115.60" y1="217.26" x2="1115.60" y2="291.24" stroke="#000" stroke-width="3" stroke-linecap="butt"/>
<line x1="1088.30" y1="217.26" x2="1142.90" y2="217.26" stroke="#000" stroke-width="3" stroke-linecap="butt"/>
<line x1="1088.30" y1="291.24" x2="1142.90" y2="291.24" stroke="#000" stroke-width="3" stroke-linecap="butt"/>
<rect x="1246.80" y="146.70" width="13.2" height="13.2" fill="#fa0000"/>
<rect x="1265.60" y="146.70" width="13.2" height="13.2" fill="#fa0000"/>
<rect x="1284.80" y="146.70" width="13.2" height="13.2" fill="#fa0000"/>
<rect x="1303.50" y="146.70" width="13.2" height="13.2" fill="#fa0000"/>
<rect x="1265.60" y="214.20" width="13.2" height="13.2" fill="#fa0000"/>
<rect x="1284.80" y="214.20" width="13.2" height="13.2" fill="#fa0000"/>
<line x1="1227.10" y1="175.50" x2="1336.10" y2="175.50" stroke="#d0121a" stroke-width="3" stroke-linecap="butt"/>
<line x1="1281.60" y1="140.71" x2="1281.60" y2="210.38" stroke="#d0121a" stroke-width="3" stroke-linecap="butt"/>
<line x1="1254.40" y1="140.71" x2="1308.80" y2="140.71" stroke="#d0121a" stroke-width="3" stroke-linecap="butt"/>
<line x1="1254.40" y1="210.38" x2="1308.80" y2="210.38" stroke="#d0121a" stroke-width="3" stroke-linecap="butt"/>
<polygon points="1428.70,146.75 1435.20,159.25 1422.20,159.25" fill="#0000f0"/>
<polygon points="1428.70,214.25 1435.20,226.75 1422.20,226.75" fill="#0000f0"/>
<polygon points="1447.80,146.75 1454.30,159.25 1441.30,159.25" fill="#0000f0"/>
<polygon points="1447.80,214.25 1454.30,226.75 1441.30,226.75" fill="#0000f0"/>
<polygon points="1466.70,146.75 1473.20,159.25 1460.20,159.25" fill="#0000f0"/>
<polygon points="1466.70,214.25 1473.20,226.75 1460.20,226.75" fill="#0000f0"/>
<line x1="1392.80" y1="186.75" x2="1502.80" y2="186.75" stroke="#0606cc" stroke-width="3" stroke-linecap="butt"/>
<line x1="1447.80" y1="149.76" x2="1447.80" y2="223.74" stroke="#0606cc" stroke-width="3" stroke-linecap="butt"/>
<line x1="1420.70" y1="149.76" x2="1474.90" y2="149.76" stroke="#0606cc" stroke-width="3" stroke-linecap="butt"/>
<line x1="1420.70" y1="223.74" x2="1474.90" y2="223.74" stroke="#0606cc" stroke-width="3" stroke-linecap="butt"/>
<polyline points="1117.60,77.70 1117.60,60.50 1447.00,60.50 1447.00,77.70" fill="none" stroke="#000" stroke-width="3" stroke-linejoin="miter"/>
<polyline points="1115.20,198.00 1115.20,107.90 1277.50,107.90 1277.50,126.50" fill="none" stroke="#000" stroke-width="3" stroke-linejoin="miter"/>
<polyline points="1287.50,126.50 1287.50,107.90 1448.00,107.90 1448.00,126.50" fill="none" stroke="#000" stroke-width="3" stroke-linejoin="miter"/>
<text x="1210.60" y="51.00" font-size="28.5"><tspan font-style="italic">P</tspan> = 0.0148</text>
<text x="1129.20" y="98.30" font-size="28.5"><tspan font-style="italic">P</tspan> = 0.0051</text>
<text x="1296.60" y="98.30" font-size="28.5"><tspan font-style="italic">P</tspan> = 0.8545</text>
<text transform="translate(971.80,433.60) rotate(-90)" x="0" y="0" font-size="30.3">Time to lowest blood glucose (h)</text>
<rect x="1032.50" y="600.50" width="497.50" height="403.80" fill="none" stroke="#000" stroke-width="3"/>
<line x1="1023.00" y1="1004.30" x2="1032.50" y2="1004.30" stroke="#000" stroke-width="3" stroke-linecap="butt"/>
<text x="1020.20" y="1015.09" font-size="31.5" text-anchor="end" font-weight="normal">0</text>
<line x1="1023.00" y1="869.70" x2="1032.50" y2="869.70" stroke="#000" stroke-width="3" stroke-linecap="butt"/>
<text x="1020.20" y="880.49" font-size="31.5" text-anchor="end" font-weight="normal">1</text>
<line x1="1023.00" y1="735.10" x2="1032.50" y2="735.10" stroke="#000" stroke-width="3" stroke-linecap="butt"/>
<text x="1020.20" y="745.89" font-size="31.5" text-anchor="end" font-weight="normal">2</text>
<line x1="1023.00" y1="600.50" x2="1032.50" y2="600.50" stroke="#000" stroke-width="3" stroke-linecap="butt"/>
<text x="1020.20" y="611.29" font-size="31.5" text-anchor="end" font-weight="normal">3</text>
<line x1="1115.30" y1="1004.30" x2="1115.30" y2="1012.80" stroke="#000" stroke-width="3" stroke-linecap="butt"/>
<text x="1115.30" y="1044.00" font-size="31" text-anchor="middle" font-weight="normal">Treated</text>
<line x1="1281.50" y1="1004.30" x2="1281.50" y2="1012.80" stroke="#000" stroke-width="3" stroke-linecap="butt"/>
<text x="1281.50" y="1044.00" font-size="31" text-anchor="middle" font-weight="normal">Untreated</text>
<line x1="1447.00" y1="1004.30" x2="1447.00" y2="1012.80" stroke="#000" stroke-width="3" stroke-linecap="butt"/>
<text x="1447.00" y="1044.00" font-size="31" text-anchor="middle" font-weight="normal">SC</text>
<circle cx="1115.40" cy="802.40" r="6.4" fill="#000"/>
<circle cx="1066.50" cy="869.70" r="6.4" fill="#000"/>
<circle cx="1090.70" cy="869.70" r="6.4" fill="#000"/>
<circle cx="1115.40" cy="869.70" r="6.4" fill="#000"/>
<circle cx="1139.60" cy="869.70" r="6.4" fill="#000"/>
<circle cx="1164.00" cy="869.70" r="6.4" fill="#000"/>
<line x1="1060.30" y1="858.49" x2="1170.30" y2="858.49" stroke="#000" stroke-width="3" stroke-linecap="butt"/>
<line x1="1115.30" y1="831.02" x2="1115.30" y2="885.95" stroke="#000" stroke-width="3" stroke-linecap="butt"/>
<line x1="1088.20" y1="831.02" x2="1142.40" y2="831.02" stroke="#000" stroke-width="3" stroke-linecap="butt"/>
<line x1="1088.20" y1="885.95" x2="1142.40" y2="885.95" stroke="#000" stroke-width="3" stroke-linecap="butt"/>
<rect x="1274.25" y="728.25" width="13.7" height="13.7" fill="#fa0000"/>
<polygon points="1398.30,728.90 1405.00,741.30 1391.60,741.30" fill="#0000f0"/>
<polygon points="1422.20,728.90 1428.90,741.30 1415.50,741.30" fill="#0000f0"/>
<polygon points="1447.00,728.90 1453.70,741.30 1440.30,741.30" fill="#0000f0"/>
<polygon points="1471.40,728.90 1478.10,741.30 1464.70,741.30" fill="#0000f0"/>
<polygon points="1495.60,728.90 1502.30,741.30 1488.90,741.30" fill="#0000f0"/>
<polygon points="1447.00,796.20 1453.70,808.60 1440.30,808.60" fill="#0000f0"/>
<line x1="1391.80" y1="746.31" x2="1502.20" y2="746.31" stroke="#0606cc" stroke-width="3" stroke-linecap="butt"/>
<line x1="1447.00" y1="718.84" x2="1447.00" y2="773.80" stroke="#0606cc" stroke-width="3" stroke-linecap="butt"/>
<line x1="1419.90" y1="718.84" x2="1474.10" y2="718.84" stroke="#0606cc" stroke-width="3" stroke-linecap="butt"/>
<line x1="1419.90" y1="773.80" x2="1474.10" y2="773.80" stroke="#0606cc" stroke-width="3" stroke-linecap="butt"/>
<polyline points="1115.00,776.60 1115.00,658.50 1446.50,658.50 1446.50,702.60" fill="none" stroke="#000" stroke-width="3" stroke-linejoin="miter"/>
<text x="1214.80" y="645.10" font-size="27"><tspan font-style="italic">P</tspan> &lt; 0.0001</text>
<text transform="translate(971.70,1015.40) rotate(-90)" x="0" y="0" font-size="30.26">Time to lowest blood glucose (h)</text>
</svg>
</body></html>
